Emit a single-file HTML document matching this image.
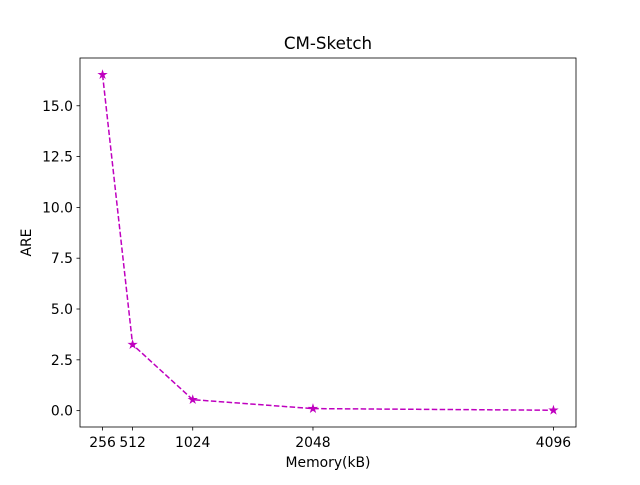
<!DOCTYPE html>
<html><head><meta charset="utf-8"><style>
body{margin:0;background:#fff;font-family:"Liberation Sans","DejaVu Sans",sans-serif;}
svg text{font-family:"DejaVu Sans","Liberation Sans",sans-serif;font-size:13.9px;fill:#000;}
</style></head><body>
<svg id="chart" width="640" height="480" viewBox="0 0 640 480" xmlns="http://www.w3.org/2000/svg">
<rect width="640" height="480" fill="#fff"/>
<g id="plot"></g>
</svg>
<script>
const memory = [256, 512, 1024, 2048, 4096];
const areValues = [16.53, 3.25, 0.54, 0.1, 0.02];
const xTickLabels = ["256", "512", "1024", "2048", "4096"];
const yTickValues = [0, 2.5, 5, 7.5, 10, 12.5, 15];

const L=80,R=576,T=58,B=427;
const xmin=64,xmax=4288,ymin=-0.805,ymax=17.35;
const sx=v=>L+(v-xmin)/(xmax-xmin)*(R-L);
const sy=v=>B-(v-ymin)/(ymax-ymin)*(B-T);
const g=document.getElementById('plot');
const NS="http://www.w3.org/2000/svg";
function mk(tag,attrs,parent){const e=document.createElementNS(NS,tag);for(const k in attrs)e.setAttribute(k,attrs[k]);(parent||g).appendChild(e);return e;}

const frame=mk('rect',{x:L,y:T,width:R-L,height:B-T,fill:'none',stroke:'#000','stroke-width':0.8});



memory.forEach((m,i)=>{
  const x=sx(m);
  const t=mk('line',{x1:x,x2:x,y1:B,y2:B+3.5,stroke:'#000','stroke-width':0.8});
  
  
  const l=mk('text',{x:x,y:B+20,'text-anchor':'middle'});
  l.textContent=xTickLabels[i];
  
  
});
yTickValues.forEach(v=>{
  const y=sy(v);
  const t=mk('line',{x1:L-3.5,x2:L,y1:y,y2:y,stroke:'#000','stroke-width':0.8});
  
  
  const l=mk('text',{x:L-7,y:y+5,'text-anchor':'end'});
  l.textContent=v.toFixed(1);
  
  
});

const pts=memory.map((m,i)=>sx(m)+','+sy(areValues[i])).join(' ');
const line=mk('polyline',{points:pts,fill:'none',stroke:'#bf00bf','stroke-width':1.5,'stroke-dasharray':'5.5,2.4'});



function star(cx,cy,r){let p=[];for(let k=0;k<10;k++){const a=-Math.PI/2+k*Math.PI/5;const rr=k%2?r*0.38:r;p.push((cx+rr*Math.cos(a)).toFixed(2)+','+(cy+rr*Math.sin(a)).toFixed(2));}return p.join(' ');}
memory.forEach((m,i)=>{
  const s=mk('polygon',{points:star(sx(m),sy(areValues[i]),3.8),fill:'#bf00bf',stroke:'#bf00bf','stroke-width':1});
  
  
});

const title=mk('text',{x:(L+R)/2,y:T-9,'text-anchor':'middle'});
title.style.fontSize='16.7px';
title.textContent='CM-Sketch';


const xl=mk('text',{x:(L+R)/2,y:467,'text-anchor':'middle'});
xl.textContent='Memory(kB)';


const yl=mk('text',{x:0,y:0,'text-anchor':'middle',transform:`translate(31,${(T+B)/2}) rotate(-90)`});
yl.textContent='ARE';


</script>
</body></html>
